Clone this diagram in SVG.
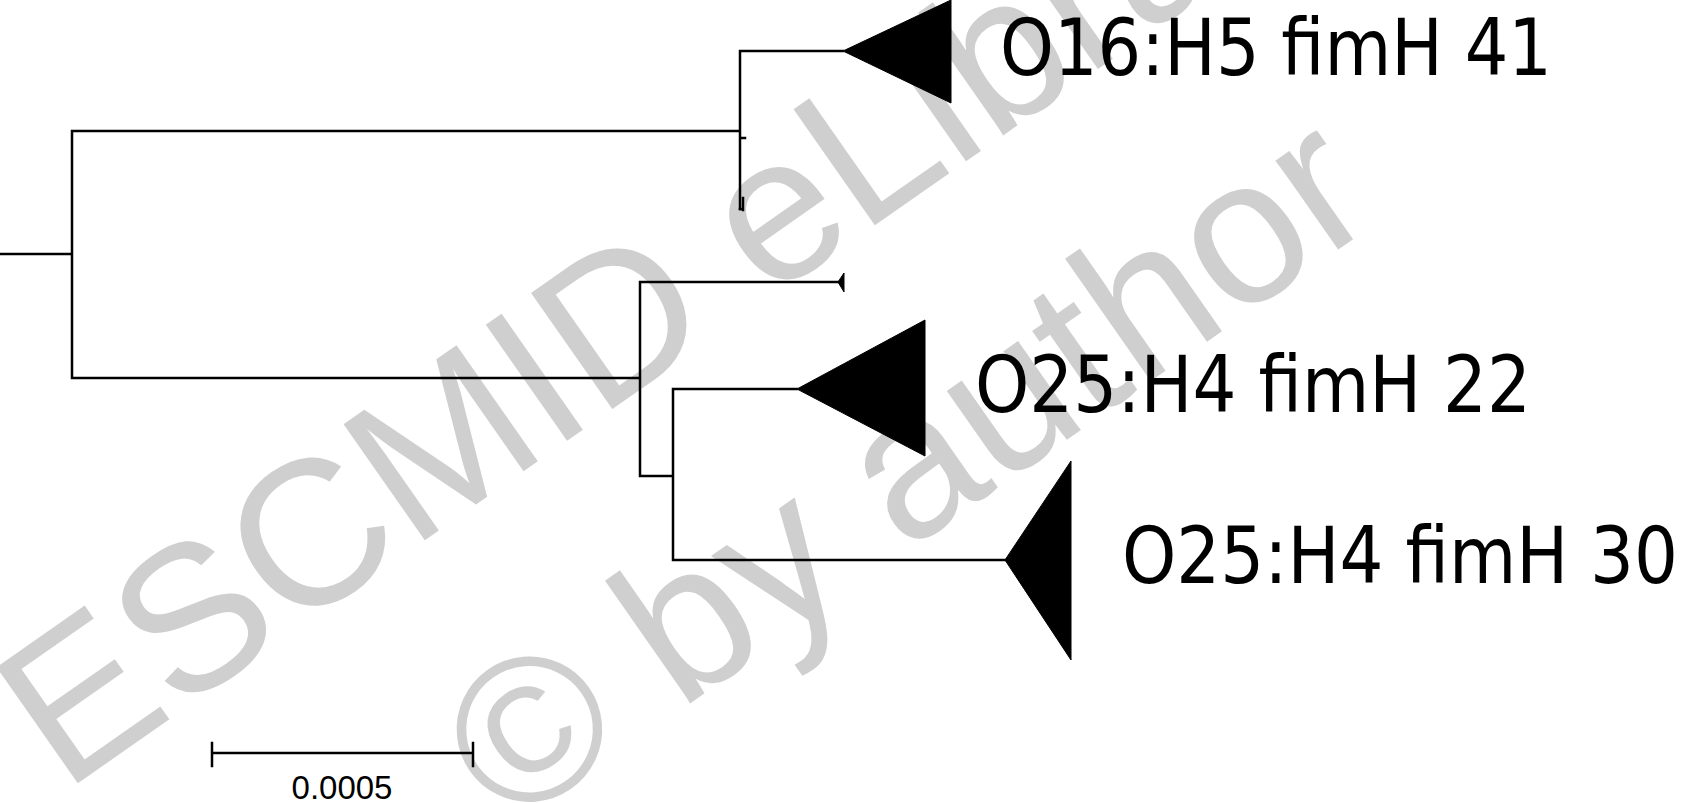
<svg xmlns="http://www.w3.org/2000/svg" width="1683" height="803" viewBox="0 0 1683 803">
<style>
.wm{font-family:"Liberation Sans",Arial,sans-serif;font-size:206px;fill:#cfcfcf}
.br{fill:none;stroke:#000;stroke-width:2.5;stroke-linecap:square}
.tri{fill:#000;stroke:#000;stroke-width:1}
.lbl{font-family:"DejaVu Sans",Tahoma,sans-serif;font-size:78px;fill:#000}
.sc{font-family:"Liberation Sans",Arial,sans-serif;font-size:33px;fill:#000;text-anchor:middle}
</style>
<rect width="1683" height="803" fill="#fff"/>
<g id="watermark">
<text class="wm" transform="translate(64,793) rotate(-35)">ESCMID eLibrary</text>
<text class="wm" transform="translate(508,831) rotate(-35)">© by author</text>
</g>
<g id="connectors">
<path class="br" d="M0,254 H72 M72,131 V378 M72,131 H740 M740,51 V209 M740,51 H843 M740,138 H745 M72,378 H640 M640,282 V476 M640,282 H838 M640,476 H673 M673,389 V560 M673,389 H797 M673,560 H1005"/>
<path class="br" d="M743,198 V210 M740,209 H743"/>
</g>
<g id="clade-O16H5">
<polygon class="tri" points="843,51 951,0 951,103"/>
<text class="lbl" x="1000" y="75" textLength="552" lengthAdjust="spacingAndGlyphs">O16:H5 fimH 41</text>
</g>
<g id="leaf-small">
<polygon class="tri" points="838,282 844,273 844,292"/>
</g>
<g id="clade-O25H4-22">
<polygon class="tri" points="797,389 925,320 925,456"/>
<text class="lbl" x="975" y="412" textLength="556" lengthAdjust="spacingAndGlyphs">O25:H4 fimH 22</text>
</g>
<g id="clade-O25H4-30">
<polygon class="tri" points="1005,560 1071,461 1071,660"/>
<text class="lbl" x="1122" y="583" textLength="556" lengthAdjust="spacingAndGlyphs">O25:H4 fimH 30</text>
</g>
<g id="scalebar">
<path class="br" d="M212,753 H473 M212,743 V766 M473,743 V766"/>
<text class="sc" x="342" y="799">0.0005</text>
</g>
</svg>
